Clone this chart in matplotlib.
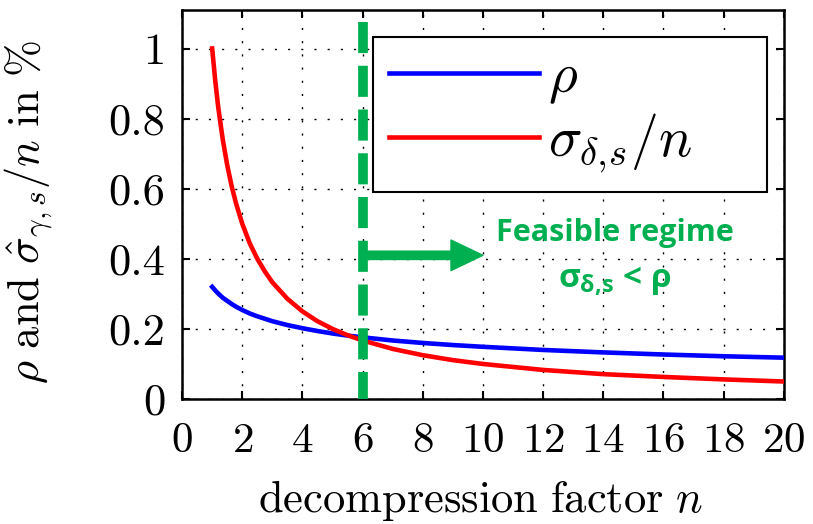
"""Decompression factor vs rho and sigma/n, with the feasible regime marked."""

import matplotlib

matplotlib.use("Agg")
import matplotlib.pyplot as plt  # noqa: E402

# values
n_vals = [1, 1.1, 1.2, 1.35, 1.5, 1.65, 1.8, 2, 2.25, 2.5, 2.75, 3, 3.5, 4, 4.5,
          5, 5.5, 6, 7, 8, 9, 10, 12, 14, 16, 18, 20]
rho = [0.32, 0.310, 0.301, 0.289, 0.280, 0.271, 0.263, 0.254, 0.244, 0.236,
       0.229, 0.222, 0.211, 0.202, 0.194, 0.187, 0.181, 0.176, 0.167, 0.160,
       0.154, 0.149, 0.140, 0.133, 0.127, 0.122, 0.118]
sigma_n = [1.0, 0.909, 0.833, 0.741, 0.667, 0.606, 0.556, 0.5, 0.444, 0.4,
           0.364, 0.333, 0.286, 0.25, 0.222, 0.2, 0.182, 0.167, 0.143, 0.125,
           0.111, 0.1, 0.083, 0.071, 0.063, 0.056, 0.05]
n_feasible = 6
arrow_end = 10
arrow_y = 0.41
x_ticks = list(range(0, 21, 2))
y_ticks = [0, 0.2, 0.4, 0.6, 0.8, 1]

GREEN = "#00B050"

plt.rcParams.update({
    "font.family": "serif",
    "font.serif": ["cmr10"],
    "mathtext.fontset": "cm",
    "axes.formatter.use_mathtext": True,
    "mathtext.rm": "Open Sans:bold",
    "mathtext.it": "Open Sans:bold",
    "mathtext.bf": "Open Sans:bold",
})

fig = plt.figure(figsize=(8.13, 5.24), dpi=100)
ax = fig.add_axes([0.224, 0.2385, 0.740, 0.7425])

ax.plot(n_vals, rho, color="#0000FF", lw=3.3, label=r"$\rho$", zorder=3)
ax.plot(n_vals, sigma_n, color="#FF0000", lw=3.3, label=r"$\sigma_{\delta,\!s}/n$", zorder=3)

ax.plot([n_feasible, n_feasible], [1.075, 0], color=GREEN, lw=7,
        dashes=(3.2, 1.3), solid_capstyle="butt", dash_capstyle="butt", zorder=4)
ax.annotate("", xy=(arrow_end, arrow_y), xytext=(n_feasible, arrow_y),
            arrowprops=dict(arrowstyle="simple,head_length=23,head_width=22,tail_width=6",
                            mutation_scale=1, color=GREEN, shrinkA=0, shrinkB=0),
            zorder=5)

ax.text(14.4, 0.474, "Feasible regime", color=GREEN, fontsize=22,
        family=["Open Sans", "DejaVu Sans"], weight="bold", ha="center", va="center")
t2 = ax.text(14.4, 0.335, r"$\sigma_{\delta,\!s}$ < $\rho$", color=GREEN, fontsize=24,
             family=["Open Sans", "DejaVu Sans"], weight="bold", ha="center", va="center")
t2.set_math_fontfamily("custom")

ax.set_xlim(0, 20)
ax.set_ylim(0, 1.11)
ax.set_xticks(x_ticks)
ax.set_yticks(y_ticks)
ax.set_yticklabels(["0", "0.2", "0.4", "0.6", "0.8", "1"])
ax.tick_params(direction="in", length=6, width=1.5, top=True, right=True, labelsize=31)
ax.tick_params(axis="x", pad=17)
ax.tick_params(axis="y", pad=12, labelsize=32)
for s in ax.spines.values():
    s.set_linewidth(1.8)
ax.grid(True, color="black", lw=1, linestyle=(0, (1.5, 8)))

ax.set_xlabel(r"$\mathrm{decompression\ factor}\ n$", fontsize=32)
ax.set_ylabel(r"$\rho\ \mathrm{and}\ \hat{\sigma}_{\gamma,s}/n\ \mathrm{in}\ \%$", fontsize=32)
ax.xaxis.label.set_math_fontfamily("cm")
ax.yaxis.label.set_math_fontfamily("cm")
ax.xaxis.set_label_coords(0.497, -0.203)
ax.yaxis.set_label_coords(-0.212, 0.481)

leg = ax.legend(loc="upper left", bbox_to_anchor=(0.317, 0.545, 0.655, 0.386),
                mode="expand", borderaxespad=0,
                fontsize=40, handlelength=2.7, handletextpad=0.15, labelspacing=0.1,
                borderpad=0.3, fancybox=False, framealpha=1, edgecolor="black")
leg.get_frame().set_linewidth(1.5)
leg.set_zorder(6)

fig.savefig("out.png", dpi=100)
